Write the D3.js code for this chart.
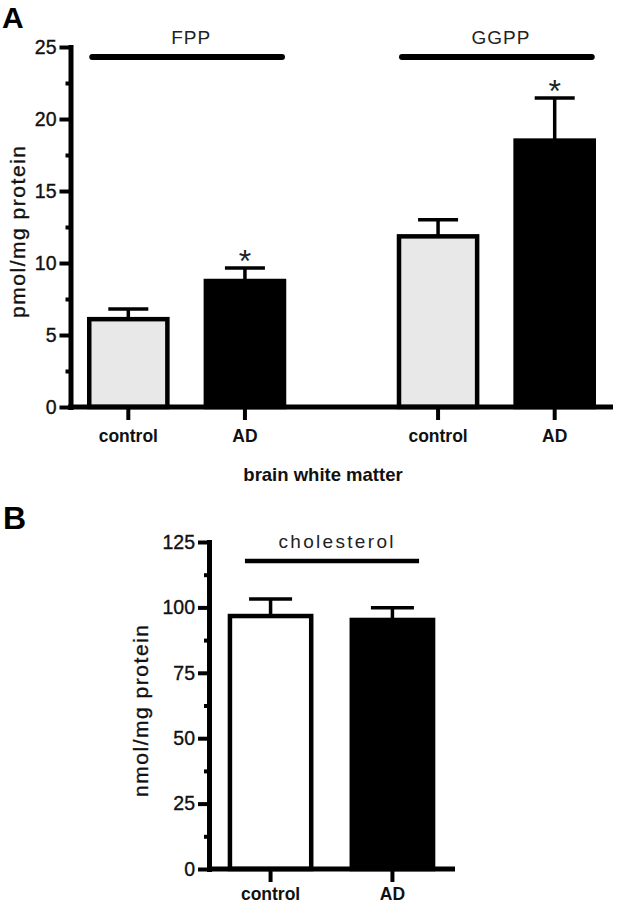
<!DOCTYPE html>
<html>
<head>
<meta charset="utf-8">
<script src="https://cdn.jsdelivr.net/npm/d3@7"></script>
<style>
  body { margin: 0; background: #fff; }
  svg { display: block; font-family: "Liberation Sans", Arial, sans-serif; }
</style>
</head>
<body>
<svg id="chart"></svg>
<script>
// panel A: isoprenoids in brain white matter
const groupsA = ["FPP", "GGPP"];
const conditions = ["control", "AD"];
const meanA = { FPP: [6.1, 8.75], GGPP: [11.85, 18.5] };
const semA = { FPP: [0.7, 0.9], GGPP: [1.15, 2.95] };
const sigA = { FPP: [false, true], GGPP: [false, true] };
const ticksA = [0, 5, 10, 15, 20, 25];
const minorA = [2.5, 7.5, 12.5, 17.5, 22.5];

// panel B: cholesterol
const meanB = [96.7, 95.2];
const semB = [6.5, 4.7];
const ticksB = [0, 25, 50, 75, 100, 125];
const minorB = [12.5, 37.5, 62.5, 87.5, 112.5];

const width = 617;
const height = 904;
const fillA = ["#e8e8e8", "#000"];
const fillB = ["#fff", "#000"];

const svg = d3.select("#chart")
    .attr("width", width)
    .attr("height", height);

// Funzione per disegnare l'asse y con tacche principali e secondarie
function drawYAxis(g, y, major, minor) {
    g.append("g")
        .call(d3.axisLeft(y).tickValues(minor).tickSize(5).tickFormat(""))
        .call(a => a.select(".domain").remove())
        .selectAll("line").attr("stroke-width", 4);
    const ax = g.append("g")
        .call(d3.axisLeft(y).tickValues(major).tickSize(11).tickSizeOuter(0).tickPadding(3));
    ax.select(".domain").attr("stroke-width", 5).attr("stroke-linecap", "square");
    ax.selectAll("line").attr("stroke-width", 4);
    ax.selectAll("text")
        .attr("font-size", 19.5)
        .attr("fill", "#111")
        .attr("stroke", "#111")
        .attr("stroke-width", 0.35);
}

// Funzione per le barre con errore standard
function drawBars(g, x, y, means, sems, fills, capW) {
    const data = conditions.map((c, i) => ({ c, m: means[i], s: sems[i], f: fills[i] }));
    g.selectAll("line.err")
        .data(data)
        .enter().append("line")
        .attr("class", "err")
        .attr("x1", d => x(d.c) + x.bandwidth() / 2)
        .attr("x2", d => x(d.c) + x.bandwidth() / 2)
        .attr("y1", d => y(d.m))
        .attr("y2", d => y(d.m + d.s))
        .attr("stroke", "#000").attr("stroke-width", 3.5);
    g.selectAll("line.cap")
        .data(data)
        .enter().append("line")
        .attr("class", "cap")
        .attr("x1", d => x(d.c) + x.bandwidth() / 2 - capW / 2)
        .attr("x2", d => x(d.c) + x.bandwidth() / 2 + capW / 2)
        .attr("y1", d => y(d.m + d.s))
        .attr("y2", d => y(d.m + d.s))
        .attr("stroke", "#000").attr("stroke-width", 3.5);
    g.selectAll("rect")
        .data(data)
        .enter().append("rect")
        .attr("x", d => x(d.c))
        .attr("width", x.bandwidth())
        .attr("y", d => y(d.m))
        .attr("height", d => y(0) - y(d.m))
        .attr("fill", d => d.f)
        .attr("stroke", "#000")
        .attr("stroke-width", 4.5);
    return data;
}

function drawXTicks(g, x, y, pad) {
    const ax = g.append("g")
        .attr("transform", `translate(0,${y(0)})`)
        .call(d3.axisBottom(x).tickSize(13).tickSizeOuter(0).tickPadding(pad));
    ax.select(".domain").remove();
    ax.selectAll("line").attr("stroke-width", 4);
    ax.selectAll("text").attr("font-size", 17.5).attr("font-weight", "bold").attr("fill", "#111");
}

// ---------- panel A ----------
const yA = d3.scaleLinear().domain([0, 25]).range([407, 47]);
const outerA = d3.scaleBand().domain(groupsA).range([70, 613])
    .paddingInner(0.247).paddingOuter(0);
const innerA = d3.scaleBand().domain(conditions).range([0, outerA.bandwidth()])
    .paddingInner(0.33).paddingOuter(0.165);

const gA = svg.append("g");

groupsA.forEach(grp => {
    const g = gA.append("g").attr("transform", `translate(${outerA(grp)},0)`);
    const data = drawBars(g, innerA, yA, meanA[grp], semA[grp], fillA, 40);
    drawXTicks(g, innerA, yA, 10);

    // asterischi
    g.selectAll("text.sig")
        .data(data.filter((d, i) => sigA[grp][i]))
        .enter().append("text")
        .attr("class", "sig")
        .attr("x", d => innerA(d.c) + innerA.bandwidth() / 2)
        .attr("y", d => yA(d.m + d.s) + 4)
        .attr("text-anchor", "middle")
        .attr("font-size", 32)
        .attr("fill", "#222")
        .text("*");

    // barra del gruppo
    const x1 = innerA("control") + 3;
    const x2 = innerA("AD") + innerA.bandwidth() - 2;
    g.append("line")
        .attr("x1", x1).attr("x2", x2)
        .attr("y1", 57).attr("y2", 57)
        .attr("stroke", "#000").attr("stroke-width", 6)
        .attr("stroke-linecap", "round");
    g.append("text")
        .attr("x", (x1 + x2) / 2 + 4)
        .attr("y", 44)
        .attr("text-anchor", "middle")
        .attr("font-size", 19)
        .attr("letter-spacing", 1)
        .attr("fill", "#222")
        .text(grp);
});

// asse x
gA.append("line")
    .attr("x1", outerA.range()[0] - 2).attr("x2", outerA.range()[1])
    .attr("y1", yA(0)).attr("y2", yA(0))
    .attr("stroke", "#000").attr("stroke-width", 5);

drawYAxis(gA.append("g").attr("transform", "translate(70.5,0)"), yA, ticksA, minorA);

gA.append("text")
    .attr("transform", "translate(25,232) rotate(-90)")
    .attr("text-anchor", "middle")
    .attr("font-size", 21)
    .attr("textLength", 172)
    .attr("lengthAdjust", "spacing")
    .attr("fill", "#111")
    .attr("stroke", "#111")
    .attr("stroke-width", 0.35)
    .text("pmol/mg protein");

gA.append("text")
    .attr("x", 323).attr("y", 481)
    .attr("text-anchor", "middle")
    .attr("font-size", 18.5)
    .attr("font-weight", "bold")
    .attr("fill", "#111")
    .text("brain white matter");

svg.append("text")
    .attr("x", 2).attr("y", 28)
    .attr("font-size", 30).attr("font-weight", "bold")
    .text("A");

// ---------- panel B ----------
const yB = d3.scaleLinear().domain([0, 125]).range([869, 542]);
const xB = d3.scaleBand().domain(conditions).range([208, 455])
    .paddingInner(0.333).paddingOuter(0.18);

const gB = svg.append("g");
drawBars(gB, xB, yB, meanB, semB, fillB, 43);
drawXTicks(gB, xB, yB, 6);

gB.append("line")
    .attr("x1", xB.range()[0]).attr("x2", xB.range()[1])
    .attr("y1", yB(0)).attr("y2", yB(0))
    .attr("stroke", "#000").attr("stroke-width", 5);

drawYAxis(gB.append("g").attr("transform", "translate(209,0)"), yB, ticksB, minorB);

const cx1 = xB("control") + 15;
const cx2 = xB("AD") + xB.bandwidth() - 14;
gB.append("line")
    .attr("x1", cx1).attr("x2", cx2)
    .attr("y1", 561).attr("y2", 561)
    .attr("stroke", "#000").attr("stroke-width", 4.5);
gB.append("text")
    .attr("x", (cx1 + cx2) / 2 + 4)
    .attr("y", 548)
    .attr("text-anchor", "middle")
    .attr("font-size", 19)
    .attr("textLength", 115)
    .attr("lengthAdjust", "spacing")
    .attr("fill", "#222")
    .text("cholesterol");

gB.append("text")
    .attr("transform", "translate(148,711) rotate(-90)")
    .attr("text-anchor", "middle")
    .attr("font-size", 21)
    .attr("textLength", 172)
    .attr("lengthAdjust", "spacing")
    .attr("fill", "#111")
    .attr("stroke", "#111")
    .attr("stroke-width", 0.35)
    .text("nmol/mg protein");

svg.append("text")
    .attr("x", 3).attr("y", 529)
    .attr("font-size", 32).attr("font-weight", "bold")
    .text("B");
</script>
</body>
</html>
